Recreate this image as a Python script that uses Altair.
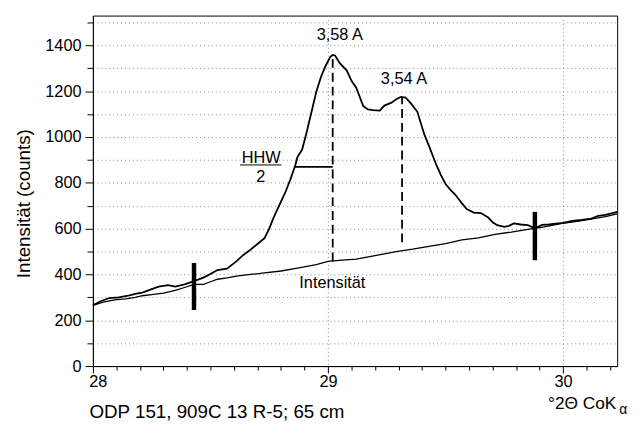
import altair as alt
import pandas as pd

FONT = "Liberation Sans"

# ---------------- data ----------------
curve_x = [28.00, 28.03, 28.07, 28.11, 28.15, 28.18, 28.21, 28.25, 28.28, 28.32,
           28.35, 28.39, 28.43, 28.47, 28.50, 28.53, 28.57, 28.61, 28.64, 28.67,
           28.70, 28.73, 28.75, 28.77, 28.80, 28.82, 28.84, 28.86, 28.87, 28.89,
           28.91, 28.93, 28.95, 28.97, 28.99, 29.01, 29.02, 29.03, 29.05, 29.08,
           29.10, 29.12, 29.15, 29.17, 29.19, 29.22, 29.24, 29.27, 29.29, 29.31,
           29.33, 29.35, 29.38, 29.41, 29.43, 29.46, 29.48, 29.50, 29.52, 29.54,
           29.57, 29.59, 29.62, 29.65, 29.68, 29.70, 29.72, 29.75, 29.77, 29.79,
           29.82, 29.85, 29.88, 29.91, 29.94, 29.97, 30.00, 30.04, 30.08, 30.12,
           30.15, 30.18, 30.21, 30.23]
curve_y = [265, 282, 297, 300, 307, 315, 321, 336, 347, 353,
           347, 357, 371, 386, 402, 419, 425, 457, 485, 508,
           533, 558, 600, 651, 718, 762, 815, 873, 912, 945,
           1024, 1110, 1196, 1262, 1311, 1350, 1358, 1356, 1322, 1290,
           1245, 1215, 1135, 1120, 1117, 1115, 1137, 1150, 1165, 1175,
           1172, 1150, 1110, 1010, 960, 880, 835, 795, 770, 750,
           710, 685, 670, 668, 650, 628, 615, 608, 612, 623,
           618, 615, 601, 616, 618, 622, 625, 634, 638, 644,
           656, 660, 668, 673]

base_x = [28.00, 28.04, 28.07, 28.10, 28.14, 28.18, 28.21, 28.25, 28.30, 28.35,
          28.39, 28.43, 28.47, 28.50, 28.53, 28.57, 28.61, 28.67, 28.73, 28.80,
          28.87, 28.95, 29.00, 29.06, 29.12, 29.20, 29.29, 29.36, 29.43, 29.50,
          29.57, 29.64, 29.71, 29.78, 29.85, 29.92, 29.99, 30.06, 30.13, 30.18,
          30.23]
base_y = [265, 278, 285, 290, 293, 300, 307, 312, 318, 330,
          343, 357, 357, 368, 379, 385, 393, 400, 407, 415,
          428, 443, 457, 462, 467, 482, 500, 510, 522, 535,
          551, 560, 575, 585, 597, 608, 622, 632, 644, 652,
          664]

peak_x = [29.02, 29.315]
peak_top = [1358, 1175]
peak_bottom = [457, 540]
peak_labels = ["3,58 A", "3,54 A"]
peak_label_x = [29.05, 29.323]
peak_label_y = [1446, 1252]

marker_x = [28.43, 29.88]
marker_lo = [245, 462]
marker_hi = [450, 673]

hhw_x, hhw_x2, hhw_y = [28.855], [29.02], [870]
frac_x, frac_x2, frac_y = [28.626], [28.802], [878]
hhw_text = ["HHW", "2"]
hhw_text_x = [28.716, 28.714]
hhw_text_y = [906, 824]

base_label = ["Intensität"]
base_label_x = [28.878]
base_label_y = [362]

x_ticks = [28.0, 28.1, 28.2, 28.3, 28.4, 28.5, 28.6, 28.7, 28.8, 28.9,
           29.0, 29.1, 29.2, 29.3, 29.4, 29.5, 29.6, 29.7, 29.8, 29.9,
           30.0, 30.1, 30.2]
y_ticks = [0, 100, 200, 300, 400, 500, 600, 700, 800, 900, 1000,
           1100, 1200, 1300, 1400, 1500]

x_title = "ODP 151, 909C 13 R-5; 65 cm"
y_title = "Intensität (counts)"
unit_text = ["°2Θ CoK"]
unit_sub = ["α"]

# ---------------- scales / axes ----------------
xs = alt.Scale(domain=[28, 30.23], nice=False, zero=False)
ys = alt.Scale(domain=[0, 1530], nice=False, zero=False)

is_int = "abs(datum.value - round(datum.value)) < 0.001"
xaxis = alt.Axis(
    values=x_ticks,
    labelExpr=f"{is_int} ? format(datum.value, 'd') : ''",
    labelOverlap=False, labelFlush=False, labelBound=False,
    labelOffset={"condition": {"test": "datum.value < 28.05", "value": 5}, "value": 0},
    labelFontSize=16.5, labelFont=FONT, labelColor="black", labelPadding=1,
    tickSize={"condition": {"test": is_int, "value": 7}, "value": 4},
    tickColor="black", domainColor="black",
    grid=True, gridColor="#888", gridDash=[1, 3],
    gridOpacity={"condition": {"test": is_int, "value": 1}, "value": 0},
    title=x_title, titleFont=FONT, titleFontSize=19, titleFontWeight="normal",
    titleColor="black", titleAnchor="start", titleAlign="left",
    titleBaseline="alphabetic", titleX=-4, titleY=52,
)
yaxis = alt.Axis(
    values=y_ticks, format="d",
    labelExpr="datum.value % 200 === 0 ? datum.label : ''",
    labelOverlap=False, labelFlush=False, labelBound=False,
    labelFontSize=16.5, labelFont=FONT, labelColor="black", labelPadding=4,
    tickSize={"condition": {"test": "datum.value % 200 === 0", "value": 8}, "value": 6},
    tickColor="black", domainColor="black",
    grid=True, gridColor="#888", gridDash=[1, 3],
    title=y_title, titleFont=FONT, titleFontSize=19, titleFontWeight="normal",
    titleColor="black", titleAngle=270, titleAlign="center",
    titleBaseline="alphabetic", titleX=-64, titleY=190,
)

X = lambda f="x": alt.X(f"{f}:Q", scale=xs, axis=xaxis)
Y = lambda f="y": alt.Y(f"{f}:Q", scale=ys, axis=yaxis)

curve = alt.Chart(pd.DataFrame({"x": curve_x, "y": curve_y})).mark_line(
    color="black", strokeWidth=1.8, interpolate="linear").encode(x=X(), y=Y())
baseline = alt.Chart(pd.DataFrame({"x": base_x, "y": base_y})).mark_line(
    color="black", strokeWidth=1.3).encode(x=X(), y=Y())

peaks = pd.DataFrame({"x": peak_x, "y": peak_bottom, "y2": peak_top})
dashed = alt.Chart(peaks).mark_rule(color="black", strokeWidth=1.8,
                                    strokeDash=[9, 5]).encode(
    x=X(), y=Y(), y2="y2:Q")

marks = alt.Chart(pd.DataFrame({"x": marker_x, "y": marker_lo, "y2": marker_hi})).mark_rule(
    color="black", strokeWidth=4.5).encode(x=X(), y=Y(), y2="y2:Q")

hhw = alt.Chart(pd.DataFrame({"x": hhw_x, "x2": hhw_x2, "y": hhw_y})).mark_rule(
    color="black", strokeWidth=1.8).encode(x=X(), x2="x2:Q", y=Y())
frac = alt.Chart(pd.DataFrame({"x": frac_x, "x2": frac_x2, "y": frac_y})).mark_rule(
    color="black", strokeWidth=1).encode(x=X(), x2="x2:Q", y=Y())

hhw_t = alt.Chart(pd.DataFrame({"x": hhw_text_x, "y": hhw_text_y, "t": hhw_text})).mark_text(
    font=FONT, fontSize=16.5, color="black", align="center", baseline="middle").encode(
    x=X(), y=Y(), text="t:N")

peak_t = alt.Chart(pd.DataFrame({"x": peak_label_x, "y": peak_label_y, "t": peak_labels})).mark_text(
    font=FONT, fontSize=16.5, color="black", align="center", baseline="middle").encode(
    x=X(), y=Y(), text="t:N")

base_t = alt.Chart(pd.DataFrame({"x": base_label_x, "y": base_label_y, "t": base_label})).mark_text(
    font=FONT, fontSize=16.5, color="black", align="left", baseline="middle").encode(
    x=X(), y=Y(), text="t:N")

unit_t = alt.Chart(pd.DataFrame({"t": unit_text})).mark_text(
    font=FONT, fontSize=17.5, color="black", align="left", baseline="alphabetic").encode(
    x=alt.value(461), y=alt.value(398), text="t:N")
unit_s = alt.Chart(pd.DataFrame({"t": unit_sub})).mark_text(
    font=FONT, fontSize=14, color="black", align="left", baseline="alphabetic").encode(
    x=alt.value(533), y=alt.value(404), text="t:N")

chart = alt.layer(curve, baseline, dashed, marks, hhw, frac, hhw_t, peak_t, base_t,
                  unit_t, unit_s).properties(
    width=531, height=355,
    autosize=alt.AutoSizeParams(type="none"),
    padding={"left": 86, "top": 5, "right": 13, "bottom": 56},
    background="white",
).configure_view(stroke="black", strokeWidth=1)

chart.save("out.html", embed_options={"renderer": "svg", "actions": False})
